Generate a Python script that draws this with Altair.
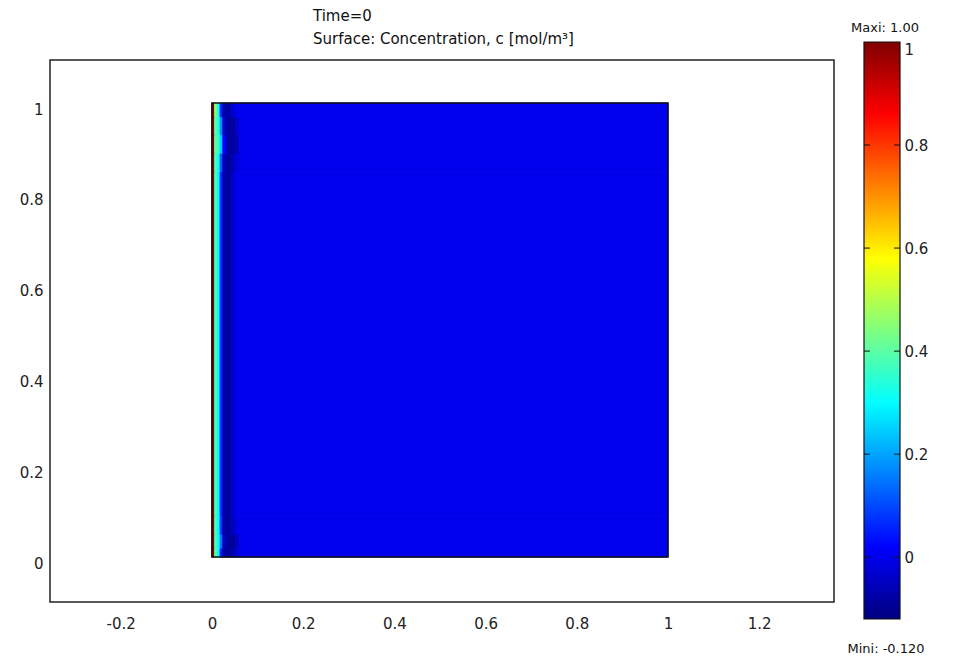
import altair as alt
import pandas as pd

# ---- data ----
x_edges = [0.0, 0.006, 0.012, 0.018, 0.024, 0.032, 0.042, 0.052, 0.06, 1.0]
y_edges = [0.0, 0.02, 0.05, 0.09, 0.85, 0.89, 0.93, 0.97, 1.0]
# rows bottom -> top, one value per x band
c_values = [
    [1.0, 0.40, 0.30, 0.05, -0.08, -0.09, -0.06, -0.03, 0.0],
    [1.0, 0.38, 0.32, 0.15, -0.05, -0.09, -0.09, -0.05, 0.0],
    [1.0, 0.38, 0.30, 0.08, -0.07, -0.09, -0.05, -0.01, 0.0],
    [1.0, 0.38, 0.30, 0.06, -0.07, -0.09, -0.04, 0.0, 0.0],
    [1.0, 0.38, 0.32, 0.12, -0.06, -0.09, -0.06, -0.02, 0.0],
    [1.0, 0.40, 0.36, 0.25, 0.02, -0.08, -0.09, -0.06, 0.0],
    [1.0, 0.40, 0.34, 0.18, -0.04, -0.09, -0.08, -0.04, 0.0],
    [1.0, 0.45, 0.32, 0.06, -0.07, -0.08, -0.03, 0.0, 0.0],
]
x_ticks = [-0.2, 0, 0.2, 0.4, 0.6, 0.8, 1, 1.2]
y_ticks = [0, 0.2, 0.4, 0.6, 0.8, 1]
cbar_ticks = [0, 0.2, 0.4, 0.6, 0.8, 1]
c_min, c_max = -0.12, 1.0
title_lines = ["Time=0", "Surface: Concentration, c [mol/m\u00b3]"]
maxi_text = "Maxi: 1.00"
mini_text = "Mini: -0.120"

# ---- jet colour map ----
jet_pos = [0, 0.125, 0.375, 0.625, 0.875, 1.0]
jet_range = ["#00007f", "#0000ff", "#00ffff", "#ffff00", "#ff0000", "#7f0000"]
jet_domain = [c_min + f * (c_max - c_min) for f in jet_pos]
cscale = alt.Scale(domain=jet_domain, range=jet_range, interpolate="rgb", clamp=True)

FONT = "DejaVu Sans"
FS = 15
W, H = 784, 542
CB_W = 36
CB_TOP, CB_BOT = -18, 559   # colour bar extent relative to view top

rows = []
for j in range(len(y_edges) - 1):
    for i in range(len(x_edges) - 1):
        rows.append(dict(x0=x_edges[i], x1=x_edges[i + 1],
                         y0=y_edges[j], y1=y_edges[j + 1], c=c_values[j][i]))
field = pd.DataFrame(rows)

xs = alt.Scale(domain=[-0.355, 1.364], nice=False, zero=False)
ys = alt.Scale(domain=[-0.099, 1.095], nice=False, zero=False)

heat = alt.Chart(field).mark_rect(strokeWidth=1).encode(
    x=alt.X("x0:Q", scale=xs,
            axis=alt.Axis(values=x_ticks, ticks=False, domain=False, grid=False,
                          labelPadding=14, title=None, labelFont=FONT, labelFontSize=FS,
                          labelColor="#222", labelExpr="'' + datum.value")),
    x2="x1:Q",
    y=alt.Y("y0:Q", scale=ys,
            axis=alt.Axis(values=y_ticks, ticks=False, domain=False, grid=False,
                          labelPadding=7, title=None, labelOffset=6, labelFont=FONT,
                          labelFontSize=FS, labelColor="#222",
                          labelExpr="'' + datum.value")),
    y2="y1:Q",
    color=alt.Color("c:Q", scale=cscale, legend=None),
    stroke=alt.Color("c:Q", scale=cscale, legend=None),
)

border = alt.Chart(pd.DataFrame({"a": [0.0], "b": [1.0]})).mark_rect(
    fill="transparent", stroke="#111", strokeWidth=1.5
).encode(x="a:Q", x2="b:Q", y="a:Q", y2="b:Q")

one = pd.DataFrame({"k": [0]})
t1 = alt.Chart(one).mark_text(align="left", baseline="middle", font=FONT, fontSize=FS,
                              color="#111").encode(
    x=alt.value(263), y=alt.value(-44), text=alt.value(title_lines[0]))
t2 = alt.Chart(one).mark_text(align="left", baseline="middle", font=FONT, fontSize=FS,
                              color="#111").encode(
    x=alt.value(263), y=alt.value(-21), text=alt.value(title_lines[1]))

main = alt.layer(heat, border, t1, t2).properties(width=W, height=H)

# ---- colour bar ----
cbs = alt.Scale(domain=[c_min, c_max], range=[CB_BOT, CB_TOP], nice=False, zero=False)
grad = alt.LinearGradient(
    gradient="linear", x1=0, x2=0, y1=1, y2=0,
    stops=[alt.GradientStop(offset=p, color=c) for p, c in zip(jet_pos, jet_range)],
)
cbd = pd.DataFrame({"lo": [c_min], "hi": [c_max]})
bar = alt.Chart(cbd).mark_rect(fill=grad, stroke="#111", strokeWidth=1.2).encode(
    y=alt.Y("lo:Q", scale=cbs,
            axis=alt.Axis(orient="right", values=cbar_ticks, ticks=False, domain=False,
                          grid=False, labelPadding=4, labelFlush=True, title=None,
                          labelFont=FONT, labelFontSize=FS, labelColor="#222",
                          labelExpr="'' + datum.value")),
    y2="hi:Q",
    x=alt.value(0), x2=alt.value(CB_W),
)
tk = pd.DataFrame({"v": [0, 0.2, 0.4, 0.6, 0.8]})
tl = alt.Chart(tk).mark_rule(color="#111", strokeWidth=1).encode(
    y=alt.Y("v:Q", scale=cbs), x=alt.value(0), x2=alt.value(6))
tr = alt.Chart(tk).mark_rule(color="#111", strokeWidth=1).encode(
    y=alt.Y("v:Q", scale=cbs), x=alt.value(CB_W - 6), x2=alt.value(CB_W))
maxi = alt.Chart(one).mark_text(align="center", baseline="middle", font=FONT, fontSize=13,
                                color="#111").encode(
    x=alt.value(21), y=alt.value(-32), text=alt.value(maxi_text))
mini = alt.Chart(one).mark_text(align="center", baseline="middle", font=FONT, fontSize=13,
                                color="#111").encode(
    x=alt.value(22), y=alt.value(589), text=alt.value(mini_text))
colorbar = alt.layer(bar, tl, tr, maxi, mini).properties(
    width=CB_W, height=CB_BOT, view=alt.ViewBackground(stroke="transparent"))

chart = alt.hconcat(main, colorbar, spacing=11).properties(
    padding={"left": 18, "top": 8, "right": 5, "bottom": 5},
    background="white",
).configure_view(stroke="#222", strokeWidth=1.5)

chart.save("out.html", embed_options={"renderer": "svg", "actions": False})
